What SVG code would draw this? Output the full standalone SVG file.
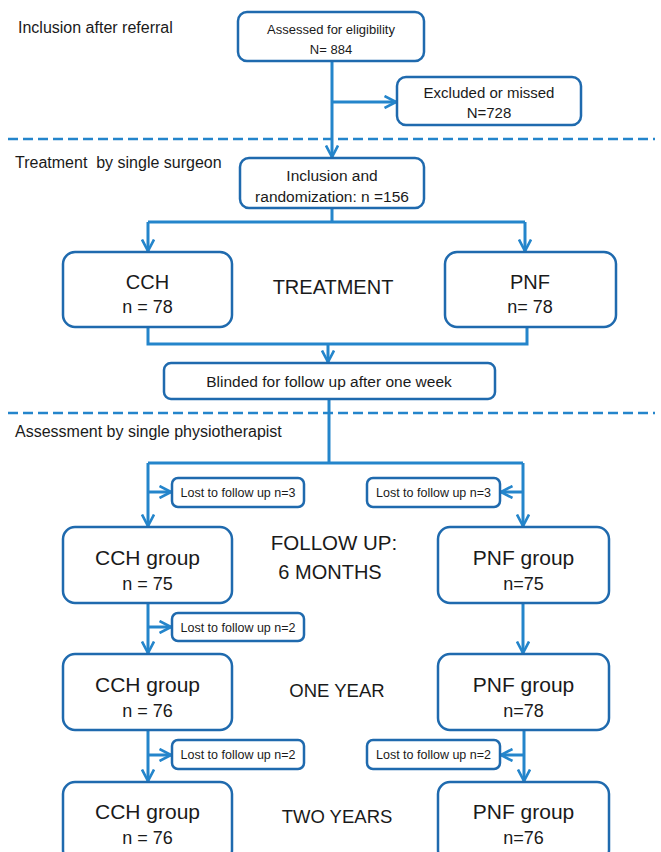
<svg xmlns="http://www.w3.org/2000/svg" width="661" height="852" viewBox="0 0 661 852">
<style>
text{font-family:"Liberation Sans",Arial,sans-serif;fill:#1a1a1a}
.c{text-anchor:middle}
.box{fill:#fff;stroke:#1f6aae;stroke-width:2.5}
.con{fill:none;stroke:#2485cb;stroke-width:3}
.dash{stroke:#2485cb;stroke-width:2.5;stroke-dasharray:10 5}
.lbl{font-size:16px}
.big{font-size:20px}
.nn{font-size:18px}
.grp{font-size:21px}
.sm{font-size:12.5px}
.md{font-size:15px}
</style>
<defs>
<marker id="ah" viewBox="0 0 14 14" refX="12.5" refY="7" markerWidth="14" markerHeight="14" markerUnits="userSpaceOnUse" orient="auto">
<path d="M1,1 L12.5,7 L1,13" fill="none" stroke="#2485cb" stroke-width="2.6"/>
</marker>
</defs>

<g id="sections">
<line class="dash" x1="8" y1="139" x2="655" y2="139"/>
<line class="dash" x1="8" y1="413" x2="655" y2="413"/>
<text class="lbl" x="18" y="33">Inclusion after referral</text>
<text class="lbl" x="15" y="168" xml:space="preserve">Treatment  by single surgeon</text>
<text class="lbl" x="15" y="437">Assessment by single physiotherapist</text>
<text class="big c" x="333" y="294">TREATMENT</text>
<text class="c" x="334" y="550" style="font-size:20.5px">FOLLOW UP:</text>
<text class="big c" x="330" y="579">6 MONTHS</text>
<text class="c" x="337" y="697" style="font-size:18.5px">ONE YEAR</text>
<text class="c" x="337" y="823" style="font-size:18.5px">TWO YEARS</text>
</g>

<g id="connectors">
<path class="con" d="M332,61 V157" marker-end="url(#ah)"/>
<path class="con" d="M332,102 H396" marker-end="url(#ah)"/>
<path class="con" d="M332,208 V222 M148,222 H525"/>
<path class="con" d="M148,222 V251" marker-end="url(#ah)"/>
<path class="con" d="M525,222 V251" marker-end="url(#ah)"/>
<path class="con" d="M148,327 V344 H527 V327"/>
<path class="con" d="M328,344 V362" marker-end="url(#ah)"/>
<path class="con" d="M329,399 V463 M148,463 H523"/>
<path class="con" d="M148,463 V526" marker-end="url(#ah)"/>
<path class="con" d="M523,463 V526" marker-end="url(#ah)"/>
<path class="con" d="M148,492 H171" marker-end="url(#ah)"/>
<path class="con" d="M523,492 H501" marker-end="url(#ah)"/>
<path class="con" d="M148,603 V653" marker-end="url(#ah)"/>
<path class="con" d="M148,627 H171" marker-end="url(#ah)"/>
<path class="con" d="M523,603 V653" marker-end="url(#ah)"/>
<path class="con" d="M148,730 V781" marker-end="url(#ah)"/>
<path class="con" d="M148,755 H171" marker-end="url(#ah)"/>
<path class="con" d="M524,730 V781" marker-end="url(#ah)"/>
<path class="con" d="M524,755 H501" marker-end="url(#ah)"/>
</g>

<g id="assessed">
<rect class="box" x="238" y="12" width="186" height="49" rx="9"/>
<text class="c" x="331" y="34" style="font-size:13px">Assessed for eligibility</text>
<text class="c" x="331" y="54" style="font-size:13px">N= 884</text>
</g>
<g id="excluded">
<rect class="box" x="397" y="77" width="184" height="48" rx="9"/>
<text class="md c" x="489" y="98">Excluded or missed</text>
<text class="md c" x="489" y="118">N=728</text>
</g>
<g id="inclusion">
<rect class="box" x="240" y="158" width="184" height="50" rx="9"/>
<text class="c" x="332" y="181" style="font-size:15.5px">Inclusion and</text>
<text class="c" x="332" y="202" style="font-size:15.5px">randomization: n =156</text>
</g>
<g id="cch">
<rect class="box" x="63" y="252" width="169" height="75" rx="12"/>
<text class="big c" x="147.5" y="289">CCH</text>
<text class="nn c" x="147.5" y="313">n = 78</text>
</g>
<g id="pnf">
<rect class="box" x="445" y="252" width="171" height="75" rx="12"/>
<text class="big c" x="530" y="289">PNF</text>
<text class="nn c" x="530" y="313">n= 78</text>
</g>
<g id="blinded">
<rect class="box" x="164" y="363" width="331" height="36" rx="7"/>
<text class="c" x="329" y="387" style="font-size:15.5px">Blinded for follow up after one week</text>
</g>
<g id="lost-cch-6m">
<rect class="box" x="172" y="478" width="132" height="29" rx="6"/>
<text class="sm c" x="238" y="497">Lost to follow up n=3</text>
</g>
<g id="lost-pnf-6m">
<rect class="box" x="367" y="478" width="133" height="29" rx="6"/>
<text class="sm c" x="433.5" y="497">Lost to follow up n=3</text>
</g>
<g id="cch-6m">
<rect class="box" x="63" y="527" width="169" height="76" rx="12"/>
<text class="grp c" x="147.5" y="565">CCH group</text>
<text class="nn c" x="147.5" y="590">n = 75</text>
</g>
<g id="pnf-6m">
<rect class="box" x="438" y="527" width="171" height="76" rx="12"/>
<text class="grp c" x="523.5" y="565">PNF group</text>
<text class="nn c" x="523.5" y="590">n=75</text>
</g>
<g id="lost-cch-1y">
<rect class="box" x="172" y="613" width="132" height="28" rx="6"/>
<text class="sm c" x="238" y="631.5">Lost to follow up n=2</text>
</g>
<g id="cch-1y">
<rect class="box" x="63" y="654" width="169" height="76" rx="12"/>
<text class="grp c" x="147.5" y="692">CCH group</text>
<text class="nn c" x="147.5" y="717">n = 76</text>
</g>
<g id="pnf-1y">
<rect class="box" x="438" y="654" width="171" height="76" rx="12"/>
<text class="grp c" x="523.5" y="692">PNF group</text>
<text class="nn c" x="523.5" y="717">n=78</text>
</g>
<g id="lost-cch-2y">
<rect class="box" x="172" y="740" width="132" height="29" rx="6"/>
<text class="sm c" x="238" y="759">Lost to follow up n=2</text>
</g>
<g id="lost-pnf-2y">
<rect class="box" x="367" y="740" width="133" height="29" rx="6"/>
<text class="sm c" x="433.5" y="759">Lost to follow up n=2</text>
</g>
<g id="cch-2y">
<rect class="box" x="63" y="782" width="169" height="80" rx="12"/>
<text class="grp c" x="147.5" y="819">CCH group</text>
<text class="nn c" x="147.5" y="844">n = 76</text>
</g>
<g id="pnf-2y">
<rect class="box" x="438" y="782" width="171" height="80" rx="12"/>
<text class="grp c" x="523.5" y="819">PNF group</text>
<text class="nn c" x="523.5" y="844">n=76</text>
</g>
</svg>
